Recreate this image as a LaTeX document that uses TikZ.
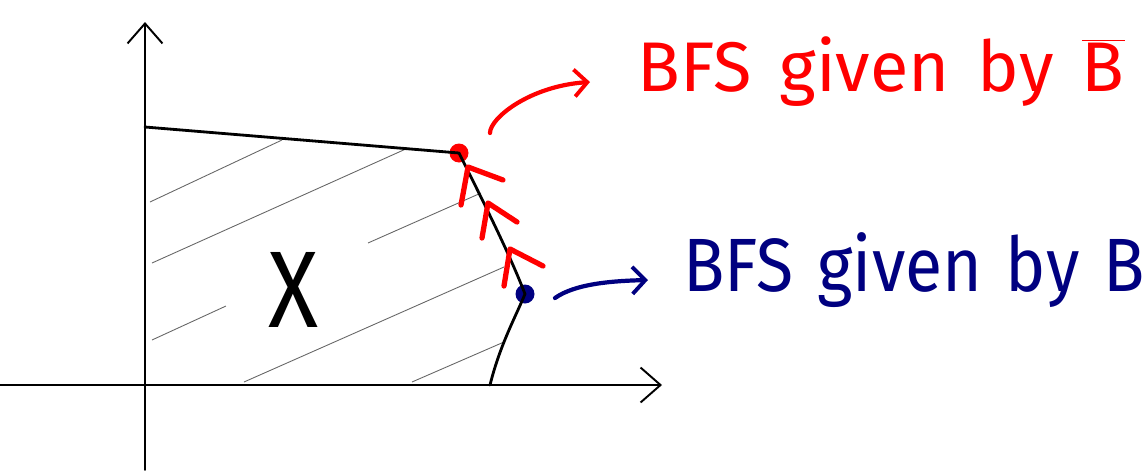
\documentclass[tikz,border=0pt]{standalone}
\usepackage{fontspec}
\setsansfont{Fira Sans}
\usetikzlibrary{arrows.meta, positioning}
\definecolor{bfsred}{RGB}{255,0,0}
\definecolor{bfsblue}{RGB}{0,0,128}

\begin{document}
\begin{tikzpicture}[x=0.02cm, y=-0.02cm,
        axis/.style={line width=1.1pt, line cap=round,
                     -{Straight Barb[length=4mm, width=7mm, line width=1.1pt]}},
        edge/.style={line width=1.6pt, line cap=round, line join=round},
        hatch/.style={black!60, line width=0.5pt},
        vertex/.style={circle, inner sep=0pt, minimum size=0.38cm},
        pointer/.style={line width=2.4pt, line cap=round,
                        -{Straight Barb[length=2.6mm, width=5.4mm, line width=2.2pt]}},
        chev/.style={bfsred, line width=3pt, line cap=round, line join=round},
        lbl/.style={font=\sffamily\fontsize{40}{40}\selectfont, anchor=base west, inner sep=0pt}
    ]
        \useasboundingbox (0,0) rectangle (1144,474);

        % axes
        \coordinate (origin) at (145,385);
        \coordinate (ytip) at (145,22);
        \coordinate (xtip) at (662,385);
        \draw[axis] (145,470) -- (ytip);
        \draw[axis] (0,385) -- (xtip);

        % hatching of X
        \foreach \p/\q in {{150,202}/{282,140}, {152,263}/{408,148}, {368,243}/{481,193},
                           {152,340}/{226,306}, {244,382}/{504,267}, {412,382}/{504,342}}
            \draw[hatch] (\p) -- (\q);

        % vertices
        \node[vertex, fill=bfsred] (bbar) at (459,153) {};
        \node[vertex, fill=bfsblue] (b) at (525,294) {};

        % boundary of X
        \coordinate (corner) at (145,127);
        \coordinate (foot) at (490,385);
        \draw[edge] (corner) -- (bbar.center) .. controls (485,205) and (510,255) .. (b.center)
            .. controls (515,318) and (500,345) .. (foot);

        % path of the method
        \foreach \p/\q/\r in {{461,205}/{468,167}/{503,180}, {482,238}/{488,203}/{517,222},
                              {504,286}/{510,249}/{543,266}}
            \draw[chev] (\p) -- (\q) -- (\r);

        \node[font=\sffamily\fontsize{62}{62}\selectfont] (x) at (293,290) {\scalebox{0.85}[1]{X}};

        % labels
        \node[lbl, text=bfsred] (bbarlbl) at (637,91)
            {\spaceskip=0.4em BFS given by $\overline{\mbox{B}}$};
        \node[lbl, text=bfsblue, font=\sffamily\fontsize{43}{43}\selectfont] (blbl) at (683,291)
            {\scalebox{0.9}[1]{\spaceskip=0.35em BFS given by B}};

        \coordinate (bbarfrom) at (490,133);
        \coordinate (bfrom) at (555,298);
        \draw[pointer, bfsred] (bbarfrom) .. controls (490,118) and (530,86) .. (590,82);
        \draw[pointer, bfsblue] (bfrom) .. controls (575,284) and (610,281) .. (648,280);
\end{tikzpicture}
\end{document}
